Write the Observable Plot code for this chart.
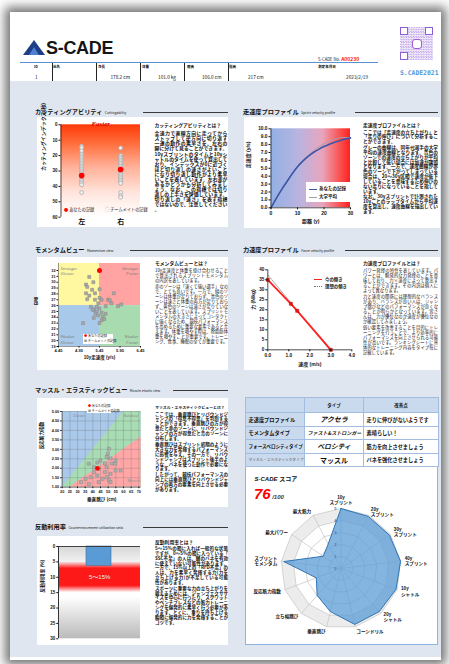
<!DOCTYPE html>
<html><head><meta charset="utf-8">
<script src="https://cdn.jsdelivr.net/npm/d3@7"></script>
<script src="https://cdn.jsdelivr.net/npm/@observablehq/plot@0.6"></script>
<style>
html,body{margin:0;padding:0}
body{width:449px;height:664px;overflow:hidden;position:relative;background:#fff;font-family:"Noto Sans CJK JP","Noto Sans",sans-serif;color:#111}
.a{position:absolute;white-space:nowrap}
.d{position:absolute;white-space:normal;line-break:anywhere;word-break:break-all;text-align:justify}
.d p{margin:0}
.d p+p{margin-top:1px}
table td{border:0.8px solid #a3bde0;padding:0 2.5px;overflow:hidden;white-space:nowrap}
</style></head><body>
<svg width="0" height="0" style="position:absolute"><defs>
<linearGradient id="gCut" x1="0" y1="0" x2="0" y2="1">
<stop offset="0" stop-color="#ff3a08"/><stop offset="0.2" stop-color="#ff6c3a"/><stop offset="0.45" stop-color="#ffae95"/><stop offset="0.75" stop-color="#ffe6de"/><stop offset="1" stop-color="#ffffff"/>
</linearGradient>
<linearGradient id="gSprint" x1="0" y1="0" x2="1" y2="0">
<stop offset="0" stop-color="#92b0e4"/><stop offset="0.35" stop-color="#b8b4e0"/><stop offset="0.65" stop-color="#e8a5bd"/><stop offset="0.85" stop-color="#fa5a5a"/><stop offset="1" stop-color="#ff2020"/>
</linearGradient>
<linearGradient id="gCM" x1="0" y1="0" x2="0" y2="1">
<stop offset="0" stop-color="#d6d6d6"/><stop offset="0.2" stop-color="#f6f6f6"/><stop offset="0.55" stop-color="#ffffff"/><stop offset="1" stop-color="#bababa"/>
</linearGradient>
<linearGradient id="gBand" x1="0" y1="0" x2="0" y2="1">
<stop offset="0" stop-color="#ff0000" stop-opacity="0"/><stop offset="0.22" stop-color="#ff0000" stop-opacity="0.9"/><stop offset="0.78" stop-color="#ff0000" stop-opacity="0.9"/><stop offset="1" stop-color="#ff0000" stop-opacity="0"/>
</linearGradient>
</defs></svg>
<script>
// ================= DATA =================
const headerLabels = ["ID","氏名","身長","体重","座高","指高","測定年月日"];
const headerValues = ["1","","178.2 cm","101.0 kg","106.0 cm","217 cm","2023/2/19"];
const scadeNo = "A00230";

const cutSides = ["左","右"];
const cutTeamLeft = [14,15,17,19,20,21,22,23,24,25,26,27,28,29,30,31,32,34,35,36,37,38,39,44];
const cutTeamRight = [15,20,21,22,23,24,25,26,27,28,29,30,31,32,33,34,35,36,37,38,44,46,47];
const cutMine = [33,29];
const cutTicks = [0,10,20,30,40,50,60];

const sprintDist = [0,2,4,6,8,10,12,14,16,18,20,22,24,26,28,30];
const sprintYou  = [0,1.2,2.3,3.3,4.3,5.2,5.9,6.5,7.0,7.4,7.75,8.05,8.3,8.5,8.7,8.85];
const sprintAvg  = [0,1.2,2.3,3.3,4.3,5.2,5.95,6.6,7.2,7.7,8.1,8.45,8.7,8.85,8.9,8.9];
const sprintYTicks = [0,1,2,3,4,5,6,7,8,9,10];
const sprintXTicks = [0,10,20,30];

const momTeamX = [5.2,5.12,5.15,5.3,5.27,5.45,5.12,5.2,5.34,5.15,5.34,5.45,5.5,5.66,5.8,5.42,5.24,5.38,5.45,5.6,5.74,5.9,5.31,5.38,5.5,5.35,5.42,5.53,5.31,5.5,5.57,5.05,5.45,5.28,5.6,5.98,5.7];
const momTeamY = [30.9,29.6,29.2,30.0,28.7,28.8,28.1,27.7,28.1,27.1,27.0,27.3,27.0,27.0,28.1,26.4,25.8,25.8,25.5,25.9,26.4,25.9,25.3,25.0,24.8,24.6,24.3,24.1,23.9,23.5,23.7,23.0,23.0,25.3,24.6,26.2,26.9];
const momMine = [5.45,32];
const momXTicks = [4.45,4.95,5.45,5.95,6.45];
const momYTicks = [19,20,21,22,23,24,25,26,27,28,29,30,31,32];
const momSplit = [5.45,26];
const momZoneColors = ["#fff8a0","#ffa3a3","#a9c9ea","#a8dcb0"];
const momZoneLabels = ["Stronger\nSlower","Stronger\nFaster","Weaker\nSlower","Weaker\nFaster"];

const fvVel   = [0,1.1,1.4,3.0];
const fvForce = [35,23,19.5,0];
const fvIdealVel   = [0,2.95];
const fvIdealForce = [37.5,0];
const fvXTicks = [0,1,2,3,4];
const fvYTicks = [0,5,10,15,20,25,30,35,40];

const meTeamX = [50.5,49.8,49.0,45.0,51.6,54.8,52.3,47.9,37.4,40.7,44.0,48.9,54.6,58.1,54.8,47.9,51.6,42.9,38.6,35.3,46.4,50.5,32.3,37.4,51.6,43.8,49.2,40.8,42.9];
const meTeamY = [3.03,2.77,2.6,2.41,2.52,2.41,2.25,2.25,2.24,2.06,1.97,2.06,2.24,1.88,1.88,1.8,1.71,1.62,1.53,1.44,1.44,1.38,1.27,1.17,1.27,1.27,1.53,1.8,2.3];
const meMine = [43,2.0];
const meUpperX = [20,60,71.5], meUpperY = [1,5,5];
const meLowerX = [20,25,71.5], meLowerY = [1,1,3.65];
const meXTicks = [20,25,30,35,40,45,50,55,60,65,70];
const meYTicks = [1,1.5,2,2.5,3,3.5,4,4.5,5];

const cmValue = 6.3;
const cmBand = [5,15];
const cmTicks = [0,5,10,15,20,25,30];

const tableHead = ["","タイプ","改善点"];
const tableRows = [
  ["走速度プロファイル","アクセラ","走りに伸びがないようです"],
  ["モメンタムタイプ","ファスト&ストロンガー","素晴らしい！"],
  ["フォースベロシティタイプ","ベロシティ","筋力を向上させましょう"],
  ["マッスル・エラスティックタイプ","マッスル","バネを強化させましょう"]
];
const score = 76, scoreMax = 100;
const radarAxes = ["10y\nスプリント","20y\nスプリント","30y\nスプリント","40y\nスプリント","10y\nシャトル","20y\nシャトル","コーンドリル","垂直跳び","立ち幅跳び","反応筋力指数","スプリント\nモメンタム","最大パワー","最大筋力"];
const radarValues = [5.0,4.9,4.9,5.0,4.9,4.8,4.8,3.7,3.0,2.2,4.8,1.8,2.3];
const radarTicks = [0,1,2,3,4,5];

// ================= HELPERS =================
const px = v => v + "px";
function el(tag, cls, css, html){const e=document.createElement(tag); if(cls) e.className=cls; Object.assign(e.style,css); if(html!=null) e.innerHTML=html; document.body.appendChild(e); return e;}
function box(x,y,w,h,css={}){return el("div","a",{left:px(x),top:px(y),width:px(w),height:px(h),...css});}
function txt(x,y,html,css={}){return el("div","a",{left:px(x),top:px(y),...css},html);}
function desc(x,y,w,title,paras,css={},tsize=4.8){
  txt(x,y,title,{fontSize:px(tsize),fontWeight:"bold",lineHeight:"6px"});
  el("div","d",{left:px(x),top:px(y+7.5),width:px(w),...css},paras.map(p=>`<p>${p}</p>`).join(""));
}
function sec(jp,en,x,y,l1,l2){
  txt(x,y-3.6,`${jp}<span style="font-size:3.4px;font-weight:normal;margin-left:2.5px">${en}</span>`,{fontSize:"6.2px",fontWeight:"bold",lineHeight:"7px"});
  box(l1,y,l2-l1,0,{borderTop:"1px solid #3a3a3a"});
}
const FONT = "'Liberation Sans','Noto Sans CJK JP',sans-serif";
const baseStyle = {background:"transparent",fontFamily:FONT,fontWeight:"bold",overflow:"visible",color:"#111"};
function place(svg,left,top){Object.assign(svg.style,{position:"absolute",left:px(left),top:px(top),maxWidth:"none"}); document.body.appendChild(svg);}

// ================= PAGE =================
box(10,12,431,648,{background:"#fff",boxShadow:"0 0 10px 5px rgba(0,0,0,0.55)"});
box(10,81,431,576,{background:"#dfe6ef"});

// logo
box(23,40,0,0,{borderLeft:"11px solid transparent",borderRight:"11px solid transparent",borderBottom:"15px solid #1d3f86"});
box(29,47,0,0,{borderLeft:"5px solid transparent",borderRight:"5px solid transparent",borderBottom:"8px solid #4f7fcf"});
txt(46,39.4,"S-CADE",{fontFamily:"'Liberation Sans'",fontWeight:"bold",fontSize:"18px",lineHeight:"18px",color:"#151515",letterSpacing:"-0.3px"});
box(20,61.5,358,0,{borderTop:"1.6px solid #5b8fd0"});
txt(318,55.5,`S-CADE No. <span style="color:#ff1010;font-weight:bold;font-size:5px">${scadeNo}</span>`,{fontSize:"4.2px",lineHeight:"5px"});
// QR-like block
box(400,27,33,33,{background:"repeating-conic-gradient(#b596e8 0 25%, #f3eefb 0 50%) 0 0/2.5px 2.5px",opacity:"0.8"});
[[400,27],[425,27],[400,52]].forEach(([x,y])=>box(x,y,8,8,{border:"1.5px solid #8b5fd6",background:"#fff",boxSizing:"border-box"}));
box(411.5,38.5,10,10,{border:"1.3px solid #a05cd0",borderRadius:"3px",background:"#fff",boxSizing:"border-box"});
txt(400,70,"S.CADE2021",{fontFamily:"'DejaVu Sans Mono'",fontWeight:"bold",fontSize:"6.4px",lineHeight:"7px",color:"#4d97dc"});
// header table
const hlX = [34,53,98,142,187,229,318];
headerLabels.forEach((t,i)=>txt(hlX[i],64.5,t,{fontSize:"3.6px",fontWeight:"bold",lineHeight:"4px"}));
const hvX = [[35,"l"],[0,"l"],[130,"r"],[176,"r"],[221.5,"r"],[248,"l"],[368,"r"]];
headerValues.forEach((t,i)=>{ if(!t) return; const [x,a]=hvX[i];
  if(a==="l") txt(x,74.5,t,{fontSize:"4.7px",lineHeight:"5.5px"});
  else el("div","a",{right:px(449-x),top:"74.5px",fontSize:"4.7px",lineHeight:"5.5px"},t);});
[52,95.5,139.5,183.5,227.5].forEach(x=>box(x,63,0,18,{borderLeft:"1px solid #222"}));

// panels
box(37,117,191,110,{background:"#fff"});
box(244,117,196,111,{background:"#fff"});
box(37,257,191,113,{background:"#fff"});
box(244,257,196,113,{background:"#fff"});
box(37,398,191,109,{background:"#fff"});
box(37,536,191,109,{background:"#fff"});
box(245,466,193,179,{background:"#fff",border:"1.3px solid #8fb3e0",boxSizing:"border-box"});

// section titles
sec("カッティングアビリティ","Cuttingability",35,112,143,228);
sec("走速度プロファイル","Sprint velocity profile",243,112,355,438);
sec("モメンタムビュー","Momentum view",35,250,130,228);
sec("力速度プロファイル","Force velocity profile",243,250,345,438);
sec("マッスル・エラスティックビュー","Muscle-elastic view",35,390,173,228);
sec("反動利用率","Countermovement utilization ratio",35,527,143,228);

// descriptions
desc(154.5,122,73,"カッティングアビリティとは？",[
 "全速力で直線方向に走ってからストップして逆方向に切り返す一連の動作の素早さを、左右の脚に分けて見ることができます。",
 "10yスプリントのタイムと10yシャトルのタイムを使って算出しており、インデックスが0に近づくほど切り返しの速さがよいことになり切り返し動作がより素早いことを表しています。左右差があるかどうかも分析してみましょう。なお、この指標では切り返しの上手さを評価しています。切り返しの「速さ」を表す指標ではないので、注意してください。"],
 {fontSize:"4.9px",lineHeight:"5px",fontWeight:"bold"});
desc(363,122,75,"走速度プロファイルとは？",[
 "ここでは「走速度の立ち上がり」と「走りの伸び」について分析することができます。",
 "グレーの曲線は、同年代選手の大学平均の速度曲線となります。青色のゾーンでの速度の立ち上がりが平均と比較して低い場合には加速が課題となります。一方で、速度曲線が赤色のゾーンで下がってしまっている場合は、20〜30y区間で速度が低下していることを意味するため伸びのない走りになっていることを指しています。",
 "なお、30yスプリントで計測された10yごとのラップタイムから平均速度を算出し、速度曲線を描出しています。"],
 {fontSize:"4.7px",lineHeight:"4.85px",fontWeight:"bold"});
desc(155,260,73,"モメンタムビューとは？",[
 "10y走速度と体重を掛け合わせることで算出されるスプリントモメンタムの内訳を表しています。",
 "赤のゾーンは「速くて強い選手」なので、とても良いです。一方で、緑のゾーンは体重が足りておらず、青色のゾーンは速さと体重の両方が足りておらず、黄色のゾーンは速さが足りていないことを表しています。スプリントモメンタムの大きさによってコンタクトに強くなるため、競技パフォーマンスを高めるために重要な要素であると言えます。体重を増やす際は、除脂肪体重を増やすことが重要です。トレーニング、食事、睡眠の全てが重要です。"],
 {fontSize:"4.3px",lineHeight:"5px"});
desc(363,260,75,"力速度プロファイルとは？",[
 "パワー発揮の特性を表しています。パワーとは、瞬発的な力発揮のことを意味しており、力×速度によって算出することができます。その内訳は個人によって異なります。",
 "力と速度の関係には理想的なバランスがあり、バランスが良い人は、ジャンプ跳びなどのパフォーマンスが良くなることが明らかとなっています。皆さんは、力が優位なのか速度が優位なのか確認してみましょう。",
 "弱い要素を改善することを目的にトレーニングを行うことで、より効率的にパフォーマンスを向上させられる可能性が高いです。ランキングシートに具体的なトレーニング内容をタイプ毎に記載しています。"],
 {fontSize:"4.3px",lineHeight:"5px"});
desc(155,404,73,"マッスル・エラスティックビューとは？",[
 "ここでは、垂直跳びとリバウンドジャンプの「得意不得意」を判別することができます。垂直跳びの方が得意だと赤のゾーンに、リバウンドジャンプの方が得意だと青のゾーンに分布します。",
 "垂直跳びはスプリント初期のように大きな力を発揮するパフォーマンスに影響を与え、その一方で、リバウンドジャンプはスプリント後半のような、バネを使った動作で必要になります。",
 "したがって、競技パフォーマンスの向上には垂直跳びとリバウンドジャンプの両方の要素を向上させる必要があります。"],
 {fontSize:"4.5px",lineHeight:"4.9px",fontWeight:"bold"},3.9);
desc(155,538.5,73,"反動利用率とは？",[
 "5〜15%の間に入れば一般的な状態ですが、0〜5%の間に入っている「SSC不足」の人は、腱のバネを有効に使えていない可能性があります。一方で、15%以上の「RFD不足」の人は、力を素早く発揮する力(力を立ち上げる力)が不足している可能性があります。",
 "スポーツに重要な力の立ち上がりを鍛えるためには、ジャンプエクササイズを中心に行ったり、スクワットやベンチプレスなどの筋力トレーニングを爆発的に素早く行う必要があります。とくに、重りを持ち上げる瞬間に爆発的に力を発揮することがコツです。"],
 {fontSize:"4.5px",lineHeight:"4.85px",fontWeight:"bold"});

// ================= CHART 1: cutting =================
{
  const xd=[0.47,2.51];
  const team=[...cutTeamLeft.map(v=>({s:1,v})),...cutTeamRight.map(v=>({s:2,v}))];
  const me=cutMine.map((v,i)=>({s:i+1,v}));
  const svg=Plot.plot({width:113,height:110,marginLeft:23.5,marginRight:10,marginTop:7.3,marginBottom:10.3,
    x:{domain:xd}, y:{domain:[cutTicks[0],cutTicks[cutTicks.length-1]],reverse:true},
    style:baseStyle,
    marks:[
      Plot.rect([0],{x1:xd[0],x2:xd[1],y1:cutTicks[0],y2:cutTicks[cutTicks.length-1],fill:"url(#gCut)"}),
      Plot.ruleX([xd[0]],{stroke:"#222",strokeWidth:0.8}),
      Plot.axisY({ticks:cutTicks,tickSize:2,tickPadding:1.5,fontSize:4.5,label:null}),
      Plot.axisX({ticks:cutSides.map((s,i)=>i+1),tickFormat:d=>cutSides[d-1],tickSize:0,tickPadding:2,fontSize:7,label:null}),
      Plot.dot(team,{x:"s",y:"v",r:2,stroke:"#a6a6a6",fill:"#eeeeee",strokeWidth:0.7}),
      Plot.dot(me,{x:"s",y:"v",r:2.8,fill:"#ff0000"}),
      Plot.text(["Faster"],{frameAnchor:"top",lineAnchor:"middle",dy:-1.5,fill:"#d40000",fontSize:7,fontStyle:"italic",fontWeight:"bold",fontFamily:"'Liberation Serif',serif"}),
      Plot.text(["カッティングインデックス(秒)"],{frameAnchor:"left",dx:-17.5,rotate:-90,fontSize:5})
    ]});
  place(svg,37,117);
  txt(64,206.5,`<span style="color:#ff0000">●</span> あなたの記録`,{fontSize:"4.2px",lineHeight:"5px"});
  txt(105,206.5,`<span style="color:#9a9a9a">○</span> チームメイトの記録`,{fontSize:"4.2px",lineHeight:"5px"});
}

// ================= CHART 2: sprint =================
{
  const you=sprintDist.map((d,i)=>({d,v:sprintYou[i]}));
  const avg=sprintDist.map((d,i)=>({d,v:sprintAvg[i]}));
  const xd=[sprintXTicks[0],sprintXTicks[sprintXTicks.length-1]], yd=[sprintYTicks[0],sprintYTicks[sprintYTicks.length-1]];
  const svg=Plot.plot({width:112,height:111,marginLeft:26.5,marginRight:6,marginTop:11.3,marginBottom:20.7,
    x:{domain:xd}, y:{domain:yd}, style:baseStyle,
    marks:[
      Plot.rect([0],{x1:xd[0],x2:xd[1],y1:yd[0],y2:yd[1],fill:"url(#gSprint)"}),
      Plot.line(avg,{x:"d",y:"v",stroke:"#ad9ca8",strokeWidth:1,curve:"monotone-x"}),
      Plot.line(you,{x:"d",y:"v",stroke:"#3a56a8",strokeWidth:1.6,curve:"monotone-x"}),
      Plot.ruleX([xd[0]],{stroke:"#222",strokeWidth:0.8}),
      Plot.ruleY([yd[0]],{stroke:"#222",strokeWidth:0.8}),
      Plot.axisY({ticks:sprintYTicks,tickFormat:".1f",tickSize:2,tickPadding:1.5,fontSize:4.8,label:null}),
      Plot.axisX({ticks:sprintXTicks,tickSize:2,tickPadding:1.5,fontSize:5,label:null}),
      Plot.text(["距離 (y)"],{frameAnchor:"bottom",dy:15,fontSize:5}),
      Plot.text(["走速度 (y/s)"],{frameAnchor:"left",dx:-22.5,rotate:-90,fontSize:5})
    ]});
  place(svg,244,117);
  box(306,182,44,20,{background:"#fff"});
  box(309,188.5,8,0,{borderTop:"1.4px solid #3a56a8"});
  txt(319,186,"あなたの記録",{fontSize:"4.5px",fontWeight:"bold",lineHeight:"5px"});
  box(309,196.5,8,0,{borderTop:"0.9px solid #ad9ca8"});
  txt(319,194,"大学平均",{fontSize:"4.5px",fontWeight:"bold",lineHeight:"5px"});
}

// ================= CHART 3: momentum =================
{
  const xd=[momXTicks[0],momXTicks[momXTicks.length-1]], yd=[momYTicks[0],33.2];
  const zones=[
    {x1:xd[0],x2:momSplit[0],y1:momSplit[1],y2:yd[1]},
    {x1:momSplit[0],x2:xd[1],y1:momSplit[1],y2:yd[1]},
    {x1:xd[0],x2:momSplit[0],y1:yd[0],y2:momSplit[1]},
    {x1:momSplit[0],x2:xd[1],y1:yd[0],y2:momSplit[1]}].map((z,i)=>({...z,c:momZoneColors[i]}));
  const team=momTeamX.map((x,i)=>({x,y:momTeamY[i]}));
  const zl={fill:"#808080",fontSize:4.8,fontStyle:"italic",fontWeight:"normal",fontFamily:"'Liberation Serif',serif",lineHeight:1.05};
  const svg=Plot.plot({width:113,height:113,marginLeft:21,marginRight:10,marginTop:6,marginBottom:24,
    x:{domain:xd}, y:{domain:yd}, style:baseStyle,
    marks:[
      Plot.rect(zones,{x1:"x1",x2:"x2",y1:"y1",y2:"y2",fill:"c"}),
      Plot.text([momZoneLabels[0]],{...zl,frameAnchor:"top-left",dx:2,dy:2.5,lineAnchor:"top",textAnchor:"start"}),
      Plot.text([momZoneLabels[1]],{...zl,frameAnchor:"top-right",dx:-2,dy:2.5,lineAnchor:"top",textAnchor:"end"}),
      Plot.text([momZoneLabels[2]],{...zl,frameAnchor:"bottom-left",dx:2,dy:-3,lineAnchor:"bottom",textAnchor:"start"}),
      Plot.text([momZoneLabels[3]],{...zl,frameAnchor:"bottom-right",dx:-2,dy:-3,lineAnchor:"bottom",textAnchor:"end"}),
      Plot.dot(team,{x:"x",y:"y",symbol:"square",r:1.7,fill:"#a8a8a8",stroke:"#7a7a7a",strokeWidth:0.4}),
      Plot.dot([momMine],{x:d=>d[0],y:d=>d[1],r:2.5,fill:"#ff0000"}),
      Plot.ruleX([xd[0]],{stroke:"#555",strokeWidth:0.6}),
      Plot.ruleY([yd[0]],{stroke:"#555",strokeWidth:0.6}),
      Plot.axisY({ticks:momYTicks,tickSize:1.5,tickPadding:1.5,fontSize:3.8,label:null}),
      Plot.axisX({ticks:momXTicks,tickFormat:".2f",tickSize:1.5,tickPadding:1.5,fontSize:4,label:null}),
      Plot.text(["10y走速度 (y/s)"],{frameAnchor:"bottom",dy:12.5,fontSize:4.5}),
      Plot.text(["BMI"],{frameAnchor:"left",dx:-22,rotate:-90,fontSize:4.5})
    ]});
  place(svg,37,257);
  box(83,334,30,10,{background:"#fff"});
  txt(84,334.3,`<span style="color:#ff0000">●</span> あなたの記録`,{fontSize:"3.2px",lineHeight:"4.3px"});
  txt(84,338.8,`<span style="color:#a0a0a0">■</span> チームメイトの記録`,{fontSize:"3.2px",lineHeight:"4.3px"});
}

// ================= CHART 4: force-velocity =================
{
  const now=fvVel.map((v,i)=>({v,f:fvForce[i]}));
  const ideal=fvIdealVel.map((v,i)=>({v,f:fvIdealForce[i]}));
  const xd=[fvXTicks[0],fvXTicks[fvXTicks.length-1]], yd=[fvYTicks[0],fvYTicks[fvYTicks.length-1]];
  const svg=Plot.plot({width:116,height:113,marginLeft:23.3,marginRight:8.7,marginTop:12.3,marginBottom:20.7,
    x:{domain:xd}, y:{domain:yd}, style:baseStyle,
    marks:[
      Plot.line(ideal,{x:"v",y:"f",stroke:"#8c8c8c",strokeWidth:0.8,strokeDasharray:"1.2,1"}),
      Plot.line(now,{x:"v",y:"f",stroke:"#ff2020",strokeWidth:1.8}),
      Plot.dot(now,{x:"v",y:"f",symbol:"square",r:1.8,fill:"#e81515",stroke:"#c00000",strokeWidth:0.4}),
      Plot.ruleX([xd[0]],{stroke:"#222",strokeWidth:0.8}),
      Plot.ruleY([yd[0]],{stroke:"#222",strokeWidth:0.8}),
      Plot.axisY({ticks:fvYTicks,tickSize:2,tickPadding:1.5,fontSize:4.6,label:null}),
      Plot.axisX({ticks:fvXTicks,tickFormat:".1f",tickSize:2,tickPadding:1.5,fontSize:4.8,label:null}),
      Plot.text(["速度 (m/s)"],{frameAnchor:"bottom",dy:15.7,fontSize:5}),
      Plot.text(["力 (N/kg)"],{frameAnchor:"left",dx:-14.3,rotate:-90,fontSize:5})
    ]});
  place(svg,244,257);
  box(314,279,8,0,{borderTop:"1.6px solid #ff2020"});
  txt(325,276.5,"今の傾き",{fontSize:"4.4px",fontWeight:"bold",lineHeight:"5px"});
  box(314,286,8,0,{borderTop:"0.9px dotted #777"});
  txt(325,283.5,"理想の傾き",{fontSize:"4.4px",fontWeight:"bold",lineHeight:"5px"});
}

// ================= CHART 5: muscle-elastic =================
{
  const xd=[meXTicks[0],71.5], yd=[meYTicks[0],meYTicks[meYTicks.length-1]];
  const upper=meUpperX.map((x,i)=>({x,y:meUpperY[i]}));
  const lower=meLowerX.map((x,i)=>({x,y:meLowerY[i]}));
  const team=meTeamX.map((x,i)=>({x,y:meTeamY[i]}));
  const zl={fill:"#8a8a8a",fontSize:4.3,fontStyle:"italic",fontWeight:"normal",fontFamily:"'Liberation Serif',serif"};
  const svg=Plot.plot({width:113,height:109,marginLeft:24.7,marginRight:9.4,marginTop:13,marginBottom:20.3,
    x:{domain:xd}, y:{domain:yd}, style:baseStyle,
    marks:[
      Plot.rect([0],{x1:xd[0],x2:xd[1],y1:yd[0],y2:yd[1],fill:"#a9c8ea"}),
      Plot.areaY(upper,{x:"x",y1:yd[0],y2:"y",fill:"#a8dcb4"}),
      Plot.areaY(lower,{x:"x",y1:yd[0],y2:"y",fill:"#ffa7a7"}),
      Plot.gridX({ticks:meXTicks,stroke:"#6e6e6e",strokeOpacity:0.55,strokeWidth:0.5}),
      Plot.gridY({ticks:meYTicks,stroke:"#6e6e6e",strokeOpacity:0.55,strokeWidth:0.5}),
      Plot.text(["Elastic"],{...zl,frameAnchor:"top-left",dx:11,dy:4,lineAnchor:"middle",textAnchor:"start"}),
      Plot.text(["Balance"],{...zl,frameAnchor:"top-right",dx:-3.5,dy:4,lineAnchor:"middle",textAnchor:"end"}),
      Plot.text(["Muscle"],{...zl,frameAnchor:"bottom-right",dx:-1.5,dy:-6.5,lineAnchor:"middle",textAnchor:"end"}),
      Plot.dot(team,{x:"x",y:"y",symbol:"square",r:1.7,fill:"#b0b0b0",stroke:"#7a7a7a",strokeWidth:0.4}),
      Plot.dot([meMine],{x:d=>d[0],y:d=>d[1],r:2.4,fill:"#ff0000"}),
      Plot.ruleX([xd[0]],{stroke:"#444",strokeWidth:0.6}),
      Plot.ruleY([yd[0]],{stroke:"#444",strokeWidth:0.6}),
      Plot.axisY({ticks:meYTicks,tickFormat:".2f",tickSize:1.5,tickPadding:1.5,fontSize:3.8,label:null}),
      Plot.axisX({ticks:meXTicks,tickSize:1.5,tickPadding:1.5,fontSize:3.8,label:null}),
      Plot.text(["垂直跳び (cm)"],{frameAnchor:"bottom",dy:13.3,fontSize:4.6}),
      Plot.text(["反応筋力指数"],{frameAnchor:"left",dx:-21,rotate:-90,fontSize:4.6})
    ]});
  place(svg,37,398);
  box(87,404.5,24,8.5,{background:"#fff"});
  txt(88,404.3,`<span style="color:#ff0000">●</span> あなたの記録`,{fontSize:"3.1px",lineHeight:"4.2px"});
  txt(88,408.5,`<span style="color:#a0a0a0">■</span> チームメイトの記録`,{fontSize:"3.1px",lineHeight:"4.2px"});
}

// ================= CHART 6: countermovement =================
{
  const yd=[cmTicks[0],cmTicks[cmTicks.length-1]];
  const svg=Plot.plot({width:113,height:109,marginLeft:21.3,marginRight:10,marginTop:10,marginBottom:6.7,
    x:{type:"band",domain:["反動利用率"],padding:0.52,axis:null},
    y:{domain:yd,reverse:true}, style:baseStyle,
    marks:[
      Plot.rect([0],{y1:yd[0],y2:yd[1],fill:"url(#gCM)"}),
      Plot.rect([cmBand],{y1:d=>d[0],y2:d=>d[1],fill:"url(#gBand)"}),
      Plot.text([cmBand],{y:d=>(d[0]+d[1])/2,text:d=>`${d[0]}〜${d[1]}%`,fill:"#ffffff",fontSize:6,fontWeight:"normal",stroke:"#d00000",strokeWidth:0.3}),
      Plot.barY([cmValue],{x:()=>"反動利用率",y1:yd[0],y2:d=>d,fill:"#5b9bd5",stroke:"#41719c",strokeWidth:0.6}),
      Plot.ruleY([yd[0]],{stroke:"#333",strokeWidth:0.9}),
      Plot.axisY({ticks:cmTicks,tickSize:2,tickPadding:1.5,fontSize:4.5,label:null}),
      Plot.text(["反動利用率 (%)"],{frameAnchor:"left",dx:-16.6,rotate:-90,fontSize:4.8})
    ]});
  place(svg,37,536);
  box(58.3,546,0,92.3,{borderLeft:"0.9px solid #333"});
}

// ================= TABLE =================
{
  const t=el("table","",{position:"absolute",left:"245px",top:"397px",width:"193px",borderCollapse:"collapse",tableLayout:"fixed",background:"#fff",fontFamily:"'Noto Sans CJK JP',sans-serif"});
  const firstCss=["font-size:5.2px;font-weight:bold","font-size:5.2px;font-weight:bold","font-size:4.6px;font-weight:bold","font-size:3.7px;color:#555"];
  const typeCss=["font-size:7px;font-weight:bold;font-style:italic","font-size:5px;font-weight:bold;font-style:italic","font-size:6.8px;font-weight:bold;font-style:italic","font-size:7px;font-weight:bold"];
  let h=`<colgroup><col style="width:59px"><col style="width:59px"><col style="width:75px"></colgroup>`;
  h+=`<tr style="height:15px;background:#c9d9ee">`+tableHead.map(c=>`<td style="text-align:center;font-size:4.5px;font-weight:bold">${c}</td>`).join("")+`</tr>`;
  tableRows.forEach((r,i)=>{
    h+=`<tr style="height:13.5px"><td style="background:#c9d9ee;${firstCss[i]}">${r[0]}</td><td style="text-align:center;${typeCss[i]}">${r[1]}</td><td style="font-size:5.2px;font-weight:bold">${r[2]}</td></tr>`;
  });
  t.innerHTML=h;
}

// ================= RADAR =================
txt(254.5,476,`<i>S-CADE</i> スコア`,{fontSize:"6px",fontWeight:"bold",lineHeight:"7px",fontFamily:"'Liberation Sans','Noto Sans CJK JP'"});
txt(254,486.3,`<span style="color:#ff0000;font-size:15px;font-style:italic;font-weight:bold">${score}</span><span style="font-size:6px;font-style:italic;font-weight:bold;color:#333;margin-left:1.5px">/${scoreMax}</span>`,{fontFamily:"'Liberation Sans'",lineHeight:"15px"});
{
  const N=radarAxes.length, ang=i=>2*Math.PI*i/N;
  const rMax=radarTicks[radarTicks.length-1];
  const poly=r=>d3.range(N+1).map(i=>({x:r*Math.sin(ang(i%N)),y:r*Math.cos(ang(i%N))}));
  const dataPoly=d3.range(N+1).map(i=>({x:radarValues[i%N]*Math.sin(ang(i%N)),y:radarValues[i%N]*Math.cos(ang(i%N))}));
  const spokes=radarAxes.map((a,i)=>({x:rMax*Math.sin(ang(i)),y:rMax*Math.cos(ang(i))}));
  const LR=rMax*1.07;
  const labels=radarAxes.map((a,i)=>{const s=Math.sin(ang(i)),c=Math.cos(ang(i));return {a,x:LR*s,y:LR*c,k:s>0.15?"start":s<-0.15?"end":"middle"};});
  const U=12,W=193,H=179,CX=95.5,CY=102;
  const lt={x:"x",y:"y",text:"a",fontSize:4.6,lineHeight:1.15};
  const svg=Plot.plot({width:W,height:H,margin:0,
    x:{domain:[-CX/U,(W-CX)/U],axis:null}, y:{domain:[-(H-CY)/U,CY/U],axis:null}, style:baseStyle,
    marks:[
      Plot.line(poly(rMax),{x:"x",y:"y",fill:"#ececec",stroke:"none"}),
      Plot.line(poly(radarTicks[radarTicks.length-2]),{x:"x",y:"y",fill:"#ffffff",stroke:"none"}),
      ...radarTicks.slice(1).map(r=>Plot.line(poly(r),{x:"x",y:"y",stroke:"#c4c4c4",strokeWidth:0.7})),
      Plot.link(spokes,{x1:0,y1:0,x2:"x",y2:"y",stroke:"#c4c4c4",strokeWidth:0.7}),
      Plot.line(dataPoly,{x:"x",y:"y",fill:"#5b9bd5",fillOpacity:0.75,stroke:"#2e75b6",strokeWidth:1}),
      Plot.text(radarTicks,{x:0,y:d=>d,text:d=>String(d),dx:-4.5,textAnchor:"end",fontSize:4,fill:"#3b78c0"}),
      Plot.text(labels.filter(d=>d.k==="start"),{...lt,textAnchor:"start",lineAnchor:"middle"}),
      Plot.text(labels.filter(d=>d.k==="end"),{...lt,textAnchor:"end",lineAnchor:"middle"}),
      Plot.text(labels.filter(d=>d.k==="middle"),{...lt,textAnchor:"middle",lineAnchor:"bottom"})
    ]});
  place(svg,245,466);
}
</script>
</body></html>
